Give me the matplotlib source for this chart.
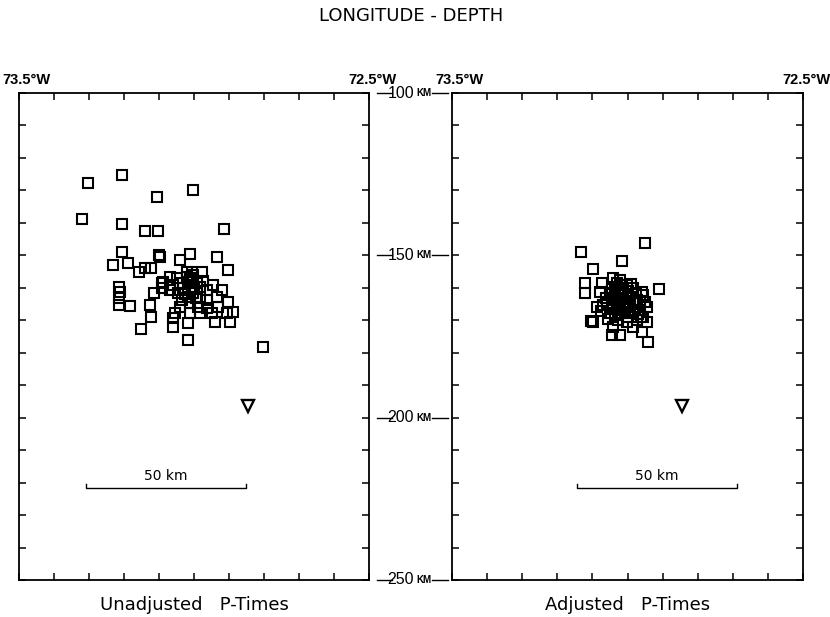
import matplotlib
matplotlib.use("Agg")
import matplotlib.pyplot as plt
from matplotlib.transforms import blended_transform_factory

# ---------------- data ----------------
# Unadjusted P-times: hypocentres (longitude in degrees, negative = West; depth in km)
unadj_lon = [-73.304, -73.207, -73.105, -73.002, -73.320, -73.205, -73.141, -73.104,
             -72.913, -73.206, -73.231, -73.189, -73.101, -73.097, -73.040, -73.012,
             -72.935, -72.902, -73.157, -73.139, -73.123, -73.215, -73.211, -73.213,
             -73.213, -73.182, -73.115, -73.126, -73.124, -73.152, -73.059, -73.059,
             -73.018, -73.016, -72.802,
             -73.088, -73.069, -73.049, -73.021, -73.007, -72.978, -73.007, -73.007,
             -73.031, -73.002, -72.983, -72.964, -72.945, -72.921, -72.935, -72.964,
             -72.902, -72.888, -72.907, -72.897, -72.940, -72.949, -72.983, -72.988,
             -73.011, -73.011, -73.040, -73.054, -72.964, -72.931, -73.092, -73.092,
             -73.045, -73.035, -73.021, -73.016, -72.992, -73.002, -73.040, -73.059,
             -72.983, -73.016, -73.069, -73.010, -73.000, -72.995, -73.025, -72.975]
unadj_depth = [127.6, 125.3, 131.9, 129.9, 138.8, 140.3, 142.6, 142.6,
               141.9, 149.1, 153.1, 152.3, 149.8, 150.4, 151.4, 149.7,
               150.4, 154.5, 155.0, 154.0, 153.9, 159.8, 161.3, 163.2,
               165.4, 165.5, 161.7, 165.4, 168.9, 172.7, 169.4, 172.0,
               170.9, 176.1, 178.3,
               158.1, 156.6, 157.1, 155.0, 155.0, 155.0, 157.6, 159.7,
               160.1, 161.7, 159.7, 160.7, 159.1, 160.7, 162.7, 163.8,
               164.3, 167.4, 167.8, 170.4, 170.4, 167.8, 167.8, 165.8,
               164.8, 167.8, 165.8, 167.8, 166.3, 165.8, 160.1, 158.6,
               161.7, 163.8, 156.6, 158.1, 158.6, 156.1, 158.6, 159.1,
               162.7, 162.7, 160.7, 157.0, 160.5, 163.0, 162.0, 158.0]

# Adjusted P-times
adj_lon = [-73.133, -72.950, -73.015, -73.099, -72.909, -73.121, -73.121, -73.074,
           -73.078, -73.088, -73.105, -73.097, -73.045, -73.021, -72.960, -72.941,
           -72.983, -73.040,
           -73.040, -73.021, -73.002, -72.983, -72.960, -72.950, -72.945, -72.955,
           -72.974, -73.002, -73.026, -73.050, -73.059, -73.050, -73.036, -73.012,
           -72.993, -72.974, -73.002, -73.026, -72.979, -73.017, -72.993, -72.964,
           -73.040, -73.069, -72.955, -73.030, -73.015, -72.990, -73.045, -73.025,
           -73.000, -72.975, -73.035, -73.015, -72.985, -72.965, -73.045, -73.010,
           -72.970, -73.035, -73.000, -73.060, -73.055, -72.945, -73.075,
           -73.020, -72.995, -73.030, -73.008, -72.985, -72.962, -73.048, -73.020]
adj_depth = [148.9, 146.3, 151.7, 154.3, 160.4, 158.6, 161.7, 158.6,
             161.2, 165.8, 170.1, 170.4, 174.5, 174.5, 173.5, 176.6,
             172.0, 172.0,
             157.1, 157.6, 159.1, 160.2, 161.2, 164.3, 165.8, 168.9,
             169.9, 170.4, 169.9, 167.9, 164.8, 161.7, 159.6, 161.7,
             162.7, 163.8, 165.8, 165.3, 166.8, 167.9, 167.9, 166.8,
             163.8, 165.3, 162.2, 158.5, 159.0, 158.8, 160.5, 161.0,
             161.0, 161.5, 162.5, 163.5, 164.5, 164.0, 166.0, 166.5,
             168.0, 168.5, 169.0, 163.0, 169.5, 170.5, 167.0,
             160.0, 163.0, 164.0, 164.5, 167.5, 169.0, 162.0, 166.0]

# station (inverted triangle)
station_lon = [-72.845]
station_depth = [196.5]

lon_ticks = [-73.5, -73.4, -73.3, -73.2, -73.1, -73.0, -72.9, -72.8, -72.7, -72.6, -72.5]
depth_ticks = [100, 110, 120, 130, 140, 150, 160, 170, 180, 190, 200, 210, 220, 230, 240, 250]
depth_labels = [100, 150, 200, 250]
lon_labels = ["73.5°W", "72.5°W"]
scale_km = 50
scale_deg = 0.458           # 50 km expressed in degrees of longitude
scale_start = [-73.309, -73.145]
scale_depth = 221.6

panel_titles = ["Unadjusted   P-Times", "Adjusted   P-Times"]
title = "LONGITUDE - DEPTH"

# ---------------- figure ----------------
W, H = 830, 617
fig = plt.figure(figsize=(W / 100, H / 100), dpi=100)
narrow = ["Liberation Sans", "DejaVu Sans"]

ax1 = fig.add_axes([19 / W, 37 / H, 350 / W, 487 / H])
ax2 = fig.add_axes([452 / W, 37 / H, 351 / W, 487 / H])

datasets = [(unadj_lon, unadj_depth), (adj_lon, adj_depth)]
for i, (ax, (lo, de)) in enumerate(zip([ax1, ax2], datasets)):
    ax.plot(lo, de, linestyle="none", marker="s", markersize=7.3,
            markerfacecolor="none", markeredgecolor="black", markeredgewidth=1.5)
    ax.plot(station_lon, station_depth, linestyle="none", marker="v", markersize=8.5,
            markerfacecolor="none", markeredgecolor="black", markeredgewidth=1.7)
    ax.set_xlim(lon_ticks[0], lon_ticks[-1])
    ax.set_ylim(depth_ticks[-1], depth_ticks[0])
    ax.set_xticks(lon_ticks)
    ax.set_yticks(depth_ticks)
    ax.tick_params(direction="in", length=5, width=1.1, top=True, right=True,
                   bottom=True, left=True, labelbottom=False, labelleft=False)
    for s in ax.spines.values():
        s.set_linewidth(1.3)

    # scale bar
    x0 = scale_start[i]
    x1 = x0 + scale_deg
    ax.plot([x0, x0, x1, x1], [scale_depth - 1.3, scale_depth, scale_depth, scale_depth - 1.3],
            color="black", linewidth=1.0)
    ax.text((x0 + x1) / 2, scale_depth - 1.6, f"{scale_km} km", ha="center", va="bottom",
            fontsize=10)

    # longitude labels
    ax.text(0.0 + 7 / 350, 1.0 + 9 / 487, lon_labels[0], transform=ax.transAxes,
            ha="center", va="baseline", fontsize=10.5, family=narrow, fontweight="bold")
    ax.text(1.0 + 3 / 350, 1.0 + 9 / 487, lon_labels[1], transform=ax.transAxes,
            ha="center", va="baseline", fontsize=10.5, family=narrow, fontweight="bold")

    # panel caption
    ax.text(0.5, -25 / 487, panel_titles[i], transform=ax.transAxes, ha="center",
            va="center", fontsize=13)

# depth labels between the panels
tr = blended_transform_factory(fig.transFigure, ax1.transData)
for d in depth_labels:
    ax1.plot([377 / W, 392 / W], [d, d], transform=tr, color="black", linewidth=1.0,
             clip_on=False)
    ax1.plot([432 / W, 448 / W], [d, d], transform=tr, color="black", linewidth=1.0,
             clip_on=False)
    ax1.text(414 / W, d, f"{d}", transform=tr, ha="right", va="center", fontsize=11.5,
             family=narrow)
    ax1.text(416 / W, d, "KM", transform=tr, ha="left", va="center", fontsize=7,
             family=narrow, fontweight="bold")

fig.text(411 / W, 1 - 16 / H, title, ha="center", va="center", fontsize=13)

fig.savefig("out.png", dpi=100)
